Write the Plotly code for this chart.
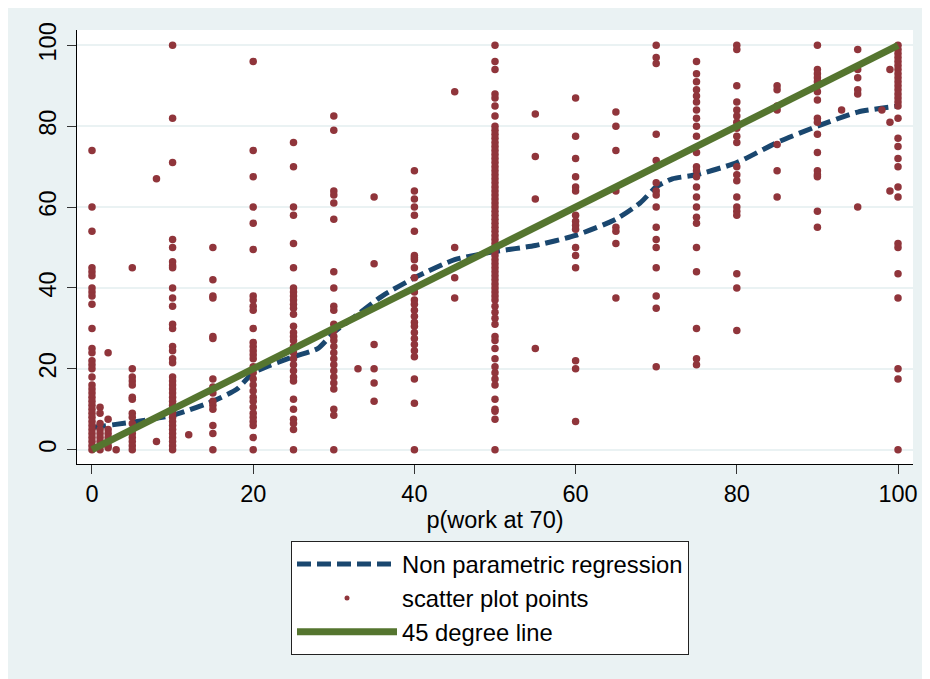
import plotly.graph_objects as go

# ---------------- data ----------------
# scatter columns: x value -> list of y values
col_x = [0, 1, 2, 3, 5, 8, 10, 12, 15, 20, 25, 30, 33, 35, 40, 45, 50, 55, 60,
         65, 70, 75, 80, 85, 90, 93, 95, 98, 99, 100]

y_at_0 = [74, 60, 54, 45, 44, 43, 40, 39, 38, 36, 30, 25, 24, 22, 21, 20, 18, 16,
          15, 14, 13, 12, 11, 10, 9, 8, 7, 6, 5, 4, 3, 2, 1, 0]
y_at_1 = [10.5, 9, 6.5, 5, 4, 3, 2, 1, 0]
y_at_2 = [24, 7.5, 5, 4, 3, 2, 1, 0.5]
y_at_3 = [0]
y_at_5 = [45, 20, 18, 17, 16, 13, 12.5, 9, 8, 6.5, 5, 4, 3, 2, 1, 0]
y_at_8 = [67, 2]
y_at_10 = [100, 82, 71, 52, 50, 46.5, 45.5, 45, 40, 37.5, 35.5, 31, 30, 25.5, 24.5,
           22.5, 21.5, 18, 17, 16, 15, 14, 13, 12, 11, 10, 9, 8, 7, 6, 5, 4, 3, 2, 1, 0]
y_at_12 = [3.7]
y_at_15 = [50, 42, 38, 37.5, 28, 27.5, 17.5, 15.5, 14, 12, 11, 10, 6, 4, 0]
y_at_20 = [96, 74, 67.5, 60, 56, 49.5, 38, 37, 35.5, 34.5, 30, 26.5, 25.5, 24.5, 23.5,
           22.5, 20.5, 19, 17.5, 16, 14.5, 13, 12, 10.5, 9, 8, 7, 6, 3, 0]
y_at_25 = [76, 70, 60, 58, 51, 45, 40, 39, 38, 37, 36, 35, 33.5, 30.5, 29, 28, 27, 25.5,
           24, 22.5, 21, 19.5, 18, 17, 12.5, 10, 7.5, 6.5, 5, 0]
y_at_30 = [82.5, 79, 64, 63, 61, 57, 44, 40, 35.5, 34.5, 31, 29.5, 28, 27, 25.5, 24,
           22.5, 21, 19.5, 18, 16.5, 15, 10, 8.5, 0]
y_at_33 = [20]
y_at_35 = [62.5, 46, 26, 20, 16.5, 12]
y_at_40 = [69, 64, 62, 60, 58, 54, 48, 47.5, 47, 45, 42.5, 39, 37, 36, 34.5, 33, 31.5,
           30.5, 29, 27.5, 26, 24.5, 23, 17.5, 11.5, 0]
y_at_45 = [88.5, 50, 42.5, 37.5]
y_at_50 = [100, 96, 94, 88, 87, 85, 82.5, 80, 79, 78, 77, 76, 75, 74, 73, 72, 71, 70,
           69, 68, 67, 66, 65, 64, 63, 62, 61, 60, 59, 58, 57, 56, 55, 54, 53, 52, 51,
           50, 49, 48, 47, 46, 45, 44, 43, 42, 41, 40, 39, 38, 37, 35.5, 34, 32.5, 31,
           28, 27, 25, 22.5, 20.5, 19, 17.5, 16, 12.5, 10, 9.5, 7.5, 0]
y_at_55 = [83, 72.5, 62, 25]
y_at_60 = [87, 77.5, 72, 67.5, 65, 64, 58, 56.5, 55.5, 54.5, 50, 48, 45, 22, 20, 7]
y_at_65 = [83.5, 80, 74, 64, 55, 54, 51, 37.5]
y_at_70 = [100, 97, 95.5, 78, 71.5, 66, 64, 63, 60, 55, 52, 50, 45, 38, 35, 20.5]
y_at_75 = [96, 93, 91, 89, 87.5, 86, 84, 82, 80, 77.5, 73.5, 70, 69, 67.5, 65, 62.5,
           60, 57.5, 56, 50, 44, 30, 22.5, 21]
y_at_80 = [100, 99, 90, 86, 84, 82.5, 81, 79.5, 77.5, 76, 70, 68, 66.5, 62.5, 60, 59,
           58, 43.5, 40, 29.5]
y_at_85 = [90, 89, 85, 84, 75.5, 69, 62.5]
y_at_90 = [100, 94, 93, 92, 91, 90, 88.5, 86.5, 82, 81, 78, 73.5, 69, 68, 67.5, 59, 55]
y_at_93 = [84]
y_at_95 = [99, 94, 92, 89, 88, 60]
y_at_98 = [84]
y_at_99 = [94, 81, 64]
y_at_100 = [100, 99, 98, 97, 96, 95, 94, 93, 92, 91, 90, 89, 88, 87, 86, 85, 82, 77,
            75, 72, 70, 65, 62.5, 51, 50, 43.5, 37.5, 20, 17.5, 0]

col_y = [y_at_0, y_at_1, y_at_2, y_at_3, y_at_5, y_at_8, y_at_10, y_at_12, y_at_15,
         y_at_20, y_at_25, y_at_30, y_at_33, y_at_35, y_at_40, y_at_45, y_at_50,
         y_at_55, y_at_60, y_at_65, y_at_70, y_at_75, y_at_80, y_at_85, y_at_90,
         y_at_93, y_at_95, y_at_98, y_at_99, y_at_100]

# non parametric regression curve
npreg_x = [0, 5, 10, 15, 18, 20, 25, 28, 30, 33, 36, 40, 45, 50, 55, 60, 65, 68, 70,
           72, 75, 80, 85, 90, 95, 100]
npreg_y = [5.5, 6.8, 8.5, 12, 15, 19, 23, 25, 29, 33.5, 38, 42.5, 47, 49, 50.5, 53,
           57, 61, 65, 67, 68, 71, 76, 80, 83.5, 85]

# 45 degree line
line45_x = [0, 100]
line45_y = [0, 100]

tick_vals = [0, 20, 40, 60, 80, 100]
x_title = "p(work at 70)"
legend_names = ["Non parametric regression", "scatter plot points", "45 degree line"]

# ---------------- styling ----------------
NAVY = "#1A476F"
MAROON = "#90353B"
GREEN = "#55752F"
BG = "#EAF2F3"
FONT = "Liberation Sans, Arial, sans-serif"

sc_x, sc_y = [], []
for xv, ys in zip(col_x, col_y):
    for yv in ys:
        sc_x.append(xv)
        sc_y.append(yv)

fig = go.Figure()
fig.add_trace(go.Scatter(x=npreg_x, y=npreg_y, mode="lines", name=legend_names[0],
                         line=dict(color=NAVY, width=5, dash="14px,6px", shape="spline",
                                   smoothing=0.6)))
fig.add_trace(go.Scatter(x=sc_x, y=sc_y, mode="markers", showlegend=False,
                         marker=dict(color=MAROON, size=7.5, line=dict(width=0))))
fig.add_trace(go.Scatter(x=[None], y=[None], mode="markers", name=legend_names[1],
                         marker=dict(color=MAROON, size=5, line=dict(width=0))))
fig.add_trace(go.Scatter(x=line45_x, y=line45_y, mode="lines", name=legend_names[2],
                         line=dict(color=GREEN, width=7)))

# plot area in page pixels: x 77..913, y 30..464 ; figure origin at (8, 8)
fig.update_layout(
    width=922, height=671,
    margin=dict(l=69, r=17, t=22, b=215),
    paper_bgcolor=BG, plot_bgcolor="white",
    font=dict(family=FONT, size=23.5, color="black"),
    showlegend=True,
    legend=dict(x=(291 - 77) / 836, y=(464 - 541) / 434, xanchor="left", yanchor="top",
                bgcolor="white", bordercolor="#222222", borderwidth=1,
                font=dict(size=23.8), itemwidth=100, tracegroupgap=0,
                traceorder="normal"),
    xaxis=dict(range=[-1.86, 101.86], tickvals=tick_vals, ticks="outside", ticklen=9,
               tickcolor="#333333", showline=True, linecolor="black", linewidth=1,
               showgrid=False, zeroline=False,
               title=dict(text=x_title, standoff=4, font=dict(size=23.5))),
    yaxis=dict(range=[-3.54, 103.8], tickvals=tick_vals, ticks="outside", ticklen=9,
               tickcolor="#333333", tickangle=-90, ticklabelstandoff=2,
               showline=True, linecolor="black",
               linewidth=1, showgrid=True, gridcolor=BG, gridwidth=2, zeroline=False),
)

fig.write_html("out.html")
